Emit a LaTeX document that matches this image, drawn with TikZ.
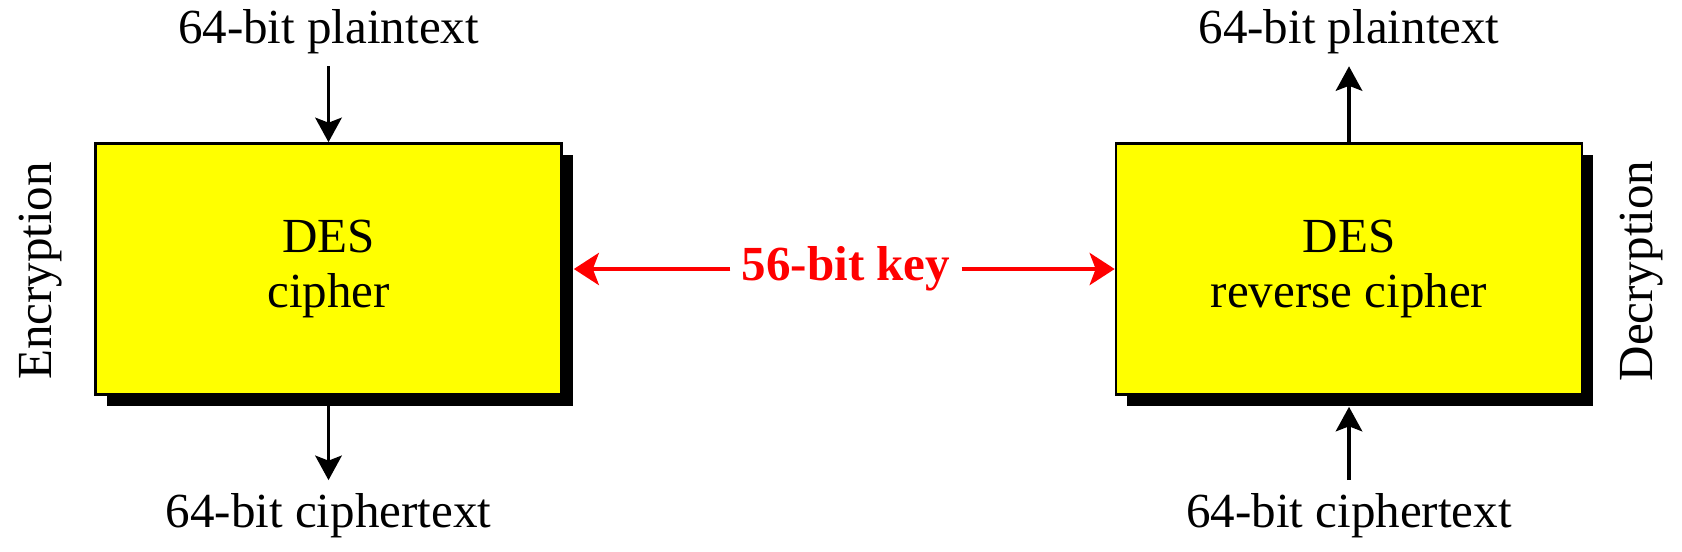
\documentclass[tikz,border=0pt]{standalone}
\usepackage{fontspec}
\setmainfont{Liberation Serif}
\usetikzlibrary{arrows.meta,shadows}

\definecolor{boxyellow}{RGB}{255,255,0}
\definecolor{keyred}{RGB}{255,0,0}

\tikzset{
  desbox/.style={draw, line width=1.5pt, fill=boxyellow, align=center,
    minimum width=9.32cm, minimum height=5.02cm,
    drop shadow={shadow xshift=2.2mm, shadow yshift=-2.2mm, fill=black, opacity=1}},
  iotext/.style={inner sep=0.25cm},
  flow/.style={line width=1.9pt, -{Stealth[length=0.49cm, width=0.53cm, inset=0.1cm]}},
  keyflow/.style={keyred, line width=2.5pt, -{Stealth[length=0.5cm, width=0.64cm, inset=0.12cm]}},
}

\begin{document}
\begin{tikzpicture}[font=\fontsize{27.9}{30.9}\selectfont]
        \useasboundingbox (0,0) rectangle (33.64,-11.02);

        \node [desbox] (enc) at (6.57,-5.38) {DES\\cipher};
        \node [desbox] (dec) at (26.98,-5.38) {DES\\reverse cipher};

        \node [iotext, anchor=base] (encin) at (6.57,-0.86) {64-bit plaintext};
        \node [iotext, anchor=base] (encout) at (6.57,-10.54) {64-bit ciphertext};
        \node [iotext, anchor=base] (decout) at (26.98,-0.86) {64-bit plaintext};
        \node [iotext, anchor=base] (decin) at (26.98,-10.54) {64-bit ciphertext};

        \node [rotate=90, anchor=base] (enclabel) at (1.04,-5.42) {Encryption};
        \node [rotate=90, anchor=base] (declabel) at (33.04,-5.42) {Decryption};

        \node [keyred, font=\fontsize{27.9}{30.9}\selectfont\bfseries, inner sep=0.22cm] (key) at (16.92,-5.38) {56-bit key};

        \draw [flow] (encin) -- (enc);
        \draw [flow] (enc) -- (encout);
        \draw [flow] (dec) -- (decout);
        \draw [flow] (decin) -- ([yshift=-2.2mm]dec.south);

        \draw [keyflow] (key.west) -- ([xshift=2.2mm]enc.east);
        \draw [keyflow] (key.east) -- (dec.west);
      \end{tikzpicture}
\end{document}
